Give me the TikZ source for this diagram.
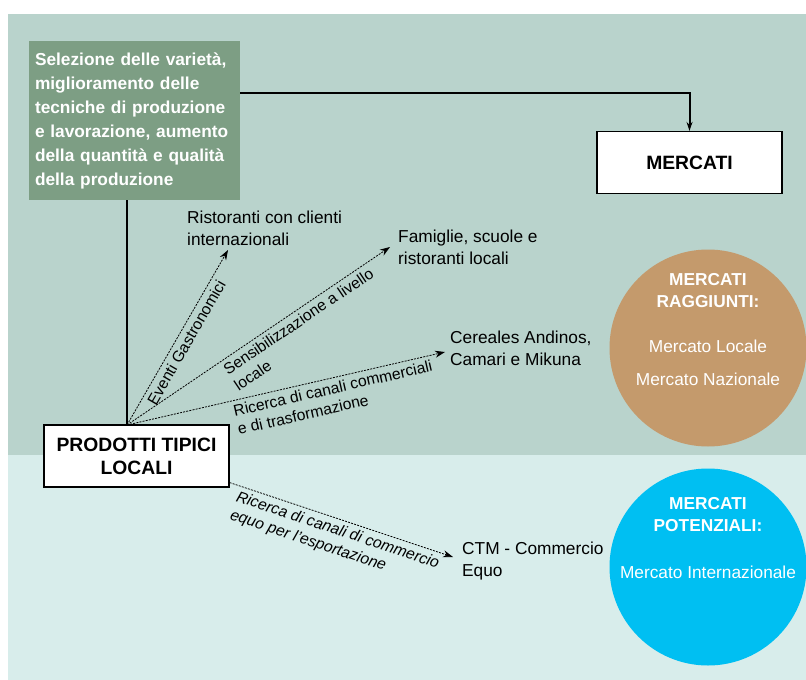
\documentclass[tikz,border=0pt]{standalone}
\usepackage{fontspec}
\setmainfont{Liberation Sans}
\usepackage{tikz}
\usetikzlibrary{arrows.meta,positioning,calc}
\usepackage{xcolor}

\definecolor{bgtop}{HTML}{B9D3CC}
\definecolor{bgbot}{HTML}{D8EDEB}
\definecolor{selgreen}{HTML}{7D9E84}
\definecolor{mktbrown}{HTML}{C49A6C}
\definecolor{mktblue}{HTML}{00BFF2}

\begin{document}
\begin{tikzpicture}[
    x=1pt, y=-1pt,
    selbox/.style={rectangle, fill=selgreen, text=white, font=\fontsize{17.3}{24}\selectfont\bfseries, align=left, text width=199pt, inner xsep=6pt, minimum height=159pt},
    mktbox/.style={draw, rectangle, fill=white, line width=1.2pt, minimum width=185pt, minimum height=62pt, align=center, font=\fontsize{19.3}{23}\selectfont\bfseries},
    dest/.style={anchor=west, inner sep=0pt, align=left, font=\fontsize{17.3}{22}\selectfont},
    circ/.style={circle, minimum size=197pt, inner sep=0pt},
    circtxt/.style={text=white, align=center, font=\fontsize{17.3}{22}\selectfont},
    arrow/.style={-{Stealth[length=10pt,width=7pt]}, line width=0.8pt, dash pattern=on 2pt off 1.2pt},
    line/.style={line width=2pt},
    lbl/.style={sloped, below, inner sep=4pt, align=left, font=\fontsize{15.7}{19}\selectfont}
]
    % background bands
    \useasboundingbox (0,0) rectangle (806,680);
    \fill[bgtop] (8,14) rectangle (806,455);
    \fill[bgbot] (8,455) rectangle (806,680);

    \node[selbox] (sel) at (134.5,120.5) {Selezione delle varietà,\\miglioramento delle\\tecniche di produzione\\e lavorazione, aumento\\della quantità e qualità\\della produzione};
    \node[mktbox] (mercati) at (689.5,162.5) {MERCATI};
    \node[mktbox] (prodotti) at (136.5,456) {PRODOTTI TIPICI\\LOCALI};
    \coordinate (hub) at (127,425);

    % destinations
    \node[dest] (rist) at (187,228) {Ristoranti con clienti\\internazionali};
    \node[dest] (fam) at (398,247) {Famiglie, scuole e\\ristoranti locali};
    \node[dest] (cer) at (450,348) {Cereales Andinos,\\Camari e Mikuna};
    \node[dest] (ctm) at (462,561) {CTM - Commercio\\Equo};

    % markets
    \node[circ, fill=mktbrown] (ragg) at (708,348) {};
    \node[circtxt] (raggtxt) at ([yshift=18pt]ragg.center) {\textbf{MERCATI}\\\textbf{RAGGIUNTI:}\\[23pt]Mercato Locale\\[11pt]Mercato Nazionale};
    \node[circ, fill=mktblue] (pot) at (708,567) {};
    \node[circtxt] (pottxt) at ([yshift=29pt]pot.center) {\textbf{MERCATI}\\\textbf{POTENZIALI:}\\[25pt]Mercato Internazionale};

    % connectors
    \draw[line, -{Stealth[length=9pt,width=6pt]}] ([yshift=28pt]sel.east) -| (mercati.north);
    \draw[line] (sel.south -| hub) -- (hub);
    \draw[arrow] (hub) -- node[lbl, pos=0.5] {Eventi Gastronomici} ([xshift=41pt,yshift=-22pt]rist.west);
    \draw[arrow] (hub) -- node[lbl, pos=0.63] {Sensibilizzazione a livello\\locale} ([xshift=-8pt]fam.west);
    \draw[arrow] (hub) -- node[lbl, pos=0.64] {Ricerca di canali commerciali\\e di trasformazione} ([xshift=-5pt,yshift=-4pt]cer.west);
    \draw[arrow] ([yshift=5pt]prodotti.south east) -- node[lbl, pos=0.5, font=\fontsize{15.7}{19}\selectfont\itshape] {Ricerca di canali di commercio\\equo per l'esportazione} ([xshift=-9pt,yshift=4pt]ctm.west);
\end{tikzpicture}
\end{document}
